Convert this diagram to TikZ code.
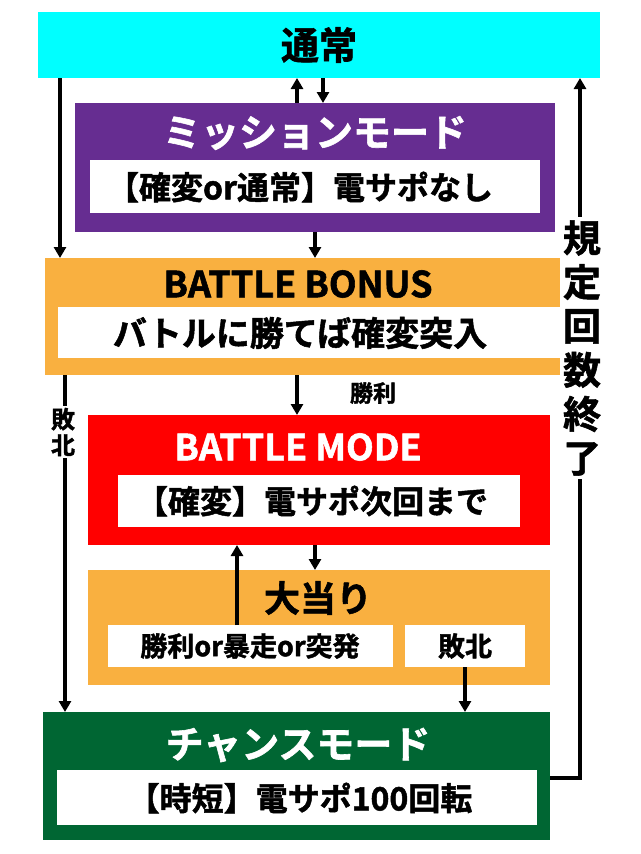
\documentclass[tikz,border=0pt]{standalone}
\usepackage{fontspec}
\setmainfont[FakeBold=1.5]{Noto Sans CJK JP Bold}
\usetikzlibrary{arrows.meta}
\definecolor{cy}{HTML}{00FFFF}
\definecolor{pu}{HTML}{662D91}
\definecolor{orb}{HTML}{F9B040}
\definecolor{rd}{HTML}{FF0000}
\definecolor{gr}{HTML}{006633}
\tikzset{
 ttl/.style={font=\fontsize{38}{40}\selectfont,inner sep=0pt},
 sub/.style={font=\fontsize{32}{34}\selectfont,inner sep=0pt},
 con/.style={line width=4pt,-{Triangle[length=11pt,width=12pt]}},
 lab/.style={font=\fontsize{24}{26}\selectfont,fill=white,inner sep=2pt,align=center}
}
\begin{document}
\begin{tikzpicture}[x=1pt,y=-1pt]
\useasboundingbox (0,0) rectangle (640,854);
\fill[white] (0,0) rectangle (640,854);
\fill[cy] (38,12) rectangle (600,78);
\node[ttl] (tsu) at (319,45) {通常};
\fill[pu] (75,103) rectangle (555,232);
\node[ttl,text=white] (mis) at (315,133) {ミッションモード};
\fill[white] (90,160) rectangle (540,213);
\node[sub] (misS) at (300,187) {【確変or通常】電サポなし};
\fill[orb] (45,258) rectangle (578,375);
\node[ttl,font=\fontsize{36}{38}\selectfont] (bb) at (298,284) {BATTLE BONUS};
\fill[white] (58,307) rectangle (565,358);
\node[sub,font=\fontsize{34}{36}\selectfont] (bbS) at (300,333) {バトルに勝てば確変突入};
\fill[rd] (88,415) rectangle (550,545);
\node[ttl,text=white,font=\fontsize{36}{38}\selectfont] (bm) at (298,447) {BATTLE MODE};
\fill[white] (118,475) rectangle (520,527);
\node[sub] (bmS) at (312,501) {【確変】電サポ次回まで};
\fill[orb] (88,570) rectangle (550,685);
\node[ttl,font=\fontsize{36}{38}\selectfont] (oa) at (318,598) {大当り};
\fill[white] (108,625) rectangle (393,667);
\node[font=\fontsize{27}{30}\selectfont,inner sep=0pt] (win) at (250,646) {勝利or暴走or突発};
\fill[white] (405,625) rectangle (525,667);
\node[font=\fontsize{27}{30}\selectfont,inner sep=0pt] (lose) at (465,646) {敗北};
\fill[gr] (43,712) rectangle (550,840);
\node[ttl,text=white] (ch) at (298,745) {チャンスモード};
\fill[white] (57,770) rectangle (537,825);
\node[sub] (chS) at (300,798) {【時短】電サポ100回転};
% connectors
\coordinate (a1) at (297,103); \coordinate (a2) at (297,78);
\draw[con] (a1) -- (a2);
\coordinate (b1) at (323,78); \coordinate (b2) at (323,103);
\draw[con] (b1) -- (b2);
\coordinate (c1) at (60,78); \coordinate (c2) at (60,258);
\draw[con] (c1) -- (c2);
\coordinate (d1) at (315,232); \coordinate (d2) at (315,258);
\draw[con] (d1) -- (d2);
\coordinate (e1) at (297,375); \coordinate (e2) at (297,415);
\draw[con] (e1) -- (e2);
\node[font=\fontsize{23}{26}\selectfont] (winL) at (373,393) {勝利};
\coordinate (f1) at (65,375); \coordinate (f2) at (65,712);
\draw[con] (f1) -- (f2);
\node[lab] (loseL) at (63,432) {敗\\北};
\coordinate (g1) at (315,545); \coordinate (g2) at (315,570);
\draw[con] (g1) -- (g2);
\coordinate (h1) at (237,625); \coordinate (h2) at (237,545);
\draw[con] (h1) -- (h2);
\coordinate (i1) at (465,667); \coordinate (i2) at (465,712);
\draw[con] (i1) -- (i2);
\coordinate (j1) at (550,778); \coordinate (j2) at (580,778); \coordinate (j3) at (580,78);
\draw[con] (j1) -- (j2) -- (j3);
\node[lab,font=\fontsize{38}{44}\selectfont,inner sep=3pt] (kt) at (582,348) {規\\定\\回\\数\\終\\了};
\end{tikzpicture}
\end{document}
